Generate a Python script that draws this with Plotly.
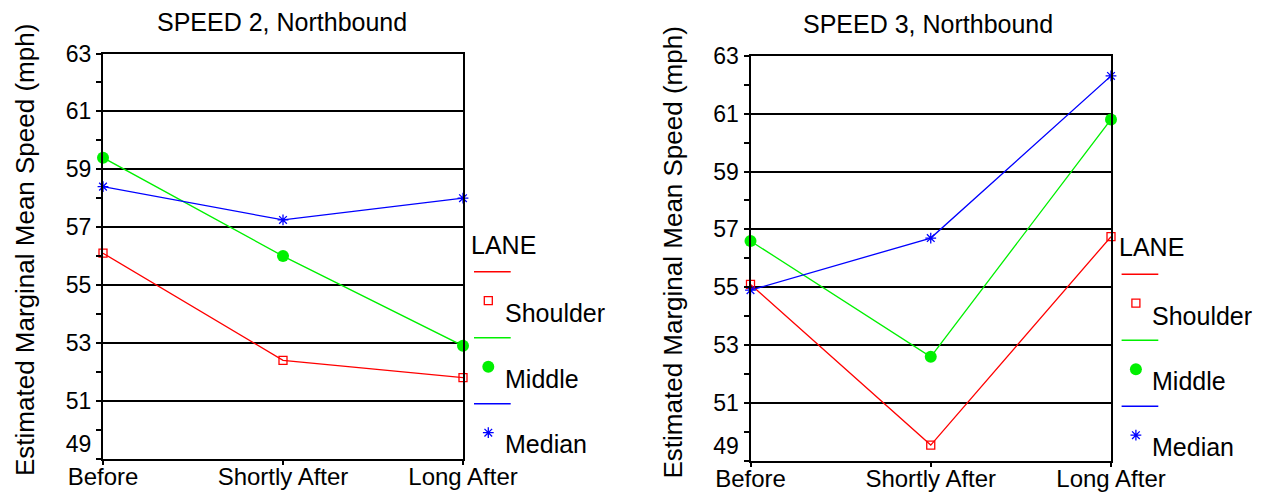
import plotly.graph_objects as go

# ---------------- data ----------------
categories = ["Before", "Shortly After", "Long After"]
lanes = ["Shoulder", "Middle", "Median"]

speed2_shoulder = [56.1, 52.4, 51.8]
speed2_middle = [59.4, 56.0, 52.9]
speed2_median = [58.4, 57.25, 58.0]

speed3_shoulder = [55.1, 49.55, 56.75]
speed3_middle = [56.6, 52.6, 60.8]
speed3_median = [54.9, 56.7, 62.3]

y_ticks = [49, 51, 53, 55, 57, 59, 61, 63]
y_minor_ticks = [50, 52, 54, 56, 58, 60, 62]
panel_titles = ["SPEED 2, Northbound", "SPEED 3, Northbound"]
y_title = "Estimated Marginal Mean Speed (mph)"
legend_title = "LANE"

# ---------------- styles ----------------
W, H = 1264, 495
FONT = "Liberation Sans, Arial, Helvetica, sans-serif"
colors = {"Shoulder": "#FF0000", "Middle": "#00F000", "Median": "#0000FF"}
marker_styles = {
    "Shoulder": dict(symbol="square-open", size=8, line=dict(width=1.3)),
    "Middle": dict(symbol="circle", size=12, line=dict(width=0)),
    "Median": dict(symbol="asterisk-open", size=9, line=dict(width=1.3)),
}

# lowest label is lifted above its tick (as in the original) to clear the x labels
y_ticktext = [f"{v}<br>&nbsp;" if v == min(y_ticks) else str(v) for v in y_ticks]

panels = [
    dict(series=[speed2_shoulder, speed2_middle, speed2_median],
         box=(103, 463, 53.5, 458.7), dx=0.0, dy=0.0,
         title_xy=(282, 21.5), ytitle_xy=(25, 250)),
    dict(series=[speed3_shoulder, speed3_middle, speed3_median],
         box=(750.5, 1111, 55.7, 461), dx=647.6, dy=2.5,
         title_xy=(928, 23.5), ytitle_xy=(672.5, 253)),
]

fig = go.Figure()
annotations = []

for p_i, panel in enumerate(panels):
    xa = "x" if p_i == 0 else "x2"
    ya = "y" if p_i == 0 else "y2"
    for lane, vals in zip(lanes, panel["series"]):
        fig.add_trace(go.Scatter(
            x=categories, y=vals, mode="lines+markers", name=lane,
            line=dict(color=colors[lane], width=1.3),
            marker=dict(color=colors[lane], **marker_styles[lane]),
            cliponaxis=False, showlegend=False, xaxis=xa, yaxis=ya))

    x0, x1, yt, yb = panel["box"]
    xkey = "xaxis" if p_i == 0 else "xaxis2"
    ykey = "yaxis" if p_i == 0 else "yaxis2"
    fig.update_layout(**{
        xkey: dict(domain=[x0 / W, x1 / W], anchor=ya, type="category",
                   categoryorder="array", categoryarray=categories,
                   range=[0, 2], showline=True, linecolor="black", linewidth=2,
                   mirror=True, ticks="outside", ticklen=4, tickwidth=2,
                   tickcolor="black", showgrid=False, zeroline=False,
                   automargin=False, ticklabelstandoff=-9,
                   tickfont=dict(family=FONT, size=24, color="black")),
        ykey: dict(domain=[(H - yb) / H, (H - yt) / H], anchor=xa,
                   range=[49, 63], tickmode="array", tickvals=y_ticks,
                   ticktext=y_ticktext,
                   showline=True, linecolor="black", linewidth=2, mirror=True,
                   showgrid=True, gridcolor="black", gridwidth=1.5,
                   ticks="outside", ticklen=5, tickwidth=2, tickcolor="black",
                   zeroline=False, automargin=False,
                   minor=dict(tickmode="array", tickvals=y_minor_ticks,
                              ticks="outside", ticklen=5, tickwidth=1.5,
                              tickcolor="black", showgrid=False),
                   tickfont=dict(family=FONT, size=23, color="black")),
    })

    # titles
    tx, ty = panel["title_xy"]
    annotations.append(dict(text=panel_titles[p_i], x=tx, y=ty, xref="x3", yref="y3",
                            xanchor="center", yanchor="middle", showarrow=False,
                            font=dict(family=FONT, size=25, color="black")))
    yx, yy = panel["ytitle_xy"]
    annotations.append(dict(text=y_title, x=yx, y=yy, xref="x3", yref="y3",
                            xanchor="center", yanchor="middle", showarrow=False,
                            textangle=-90,
                            font=dict(family=FONT, size=26, color="black")))

    # custom legend
    dx, dy = panel["dx"], panel["dy"]
    annotations.append(dict(text=legend_title, x=469.3 + dx, y=244.5 + dy,
                            xref="x3", yref="y3", xanchor="left", yanchor="middle",
                            showarrow=False,
                            font=dict(family=FONT, size=25, color="black")))
    for i, lane in enumerate(lanes):
        ly = 271.7 + 66 * i + dy
        fig.add_trace(go.Scatter(
            x=[474 + dx, 510.7 + dx], y=[ly, ly], mode="lines",
            line=dict(color=colors[lane], width=1.5),
            showlegend=False, xaxis="x3", yaxis="y3", hoverinfo="skip",
            cliponaxis=False))
        fig.add_trace(go.Scatter(
            x=[488.3 + dx], y=[300.7 + 66 * i + dy], mode="markers",
            marker=dict(color=colors[lane], **marker_styles[lane]),
            showlegend=False, xaxis="x3", yaxis="y3", hoverinfo="skip",
            cliponaxis=False))
        annotations.append(dict(text=lane, x=502.5 + dx, y=313 + 65.5 * i + dy,
                                xref="x3", yref="y3", xanchor="left",
                                yanchor="middle", showarrow=False,
                                font=dict(family=FONT, size=25, color="black")))

fig.update_layout(
    width=W, height=H,
    margin=dict(l=0, r=0, t=0, b=0, pad=0, autoexpand=False),
    paper_bgcolor="white", plot_bgcolor="rgba(0,0,0,0)",
    font=dict(family=FONT, color="black"),
    xaxis3=dict(domain=[0, 1], range=[0, W], visible=False, anchor="y3",
                fixedrange=True, automargin=False),
    yaxis3=dict(domain=[0, 1], range=[H, 0], visible=False, anchor="x3",
                fixedrange=True, automargin=False),
    annotations=annotations,
    showlegend=False,
)

fig.write_html("out.html", config={"displayModeBar": False},
               post_script="document.body.style.margin='0';document.body.style.overflow='hidden';")
